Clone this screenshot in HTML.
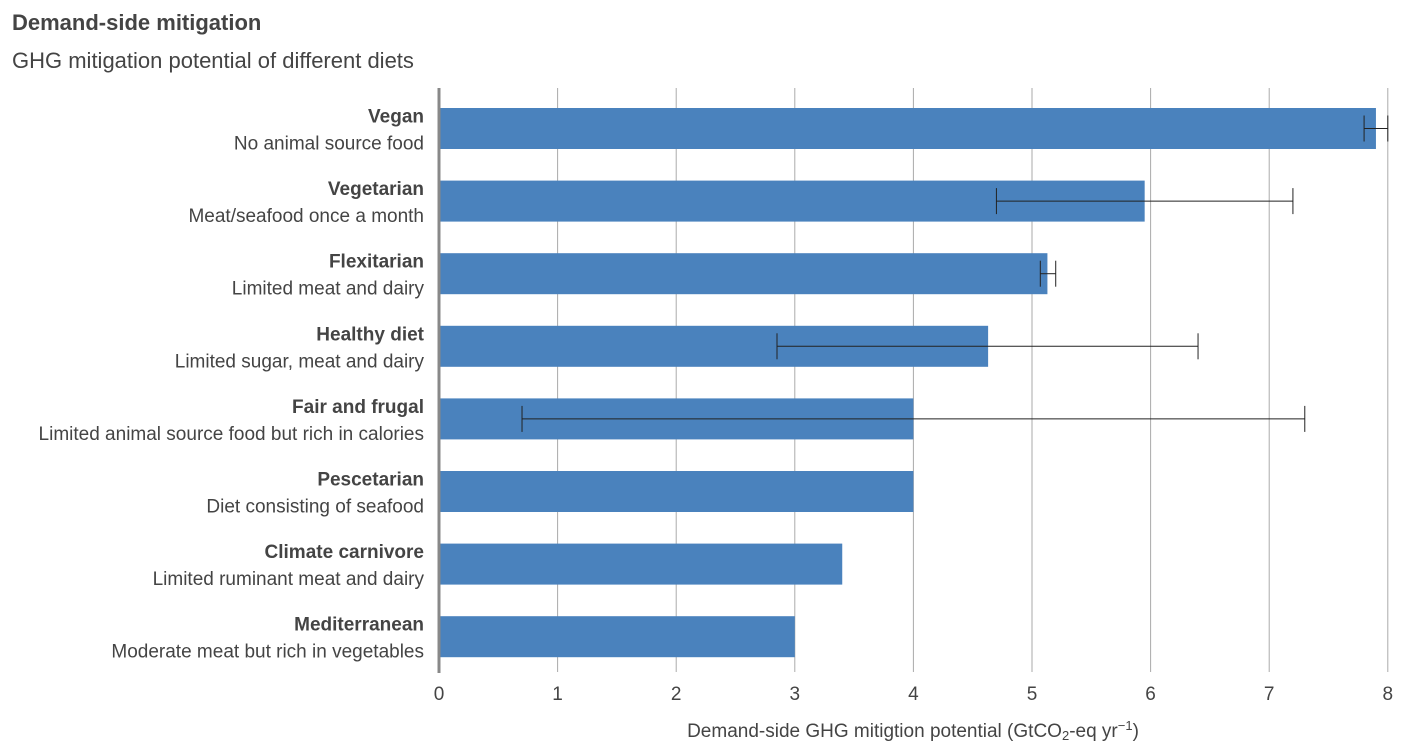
<!DOCTYPE html>
<html><head><meta charset="utf-8"><style>
body{margin:0;background:#fff;width:1401px;height:750px;overflow:hidden;font-family:"Liberation Sans",sans-serif}
text{font-family:"Liberation Sans",sans-serif;fill:#444}
</style></head><body>
<svg width="1401" height="750" id="svg">
<text x="12" y="30" font-size="22" font-weight="bold">Demand-side mitigation</text>
<text x="12" y="68" font-size="22">GHG mitigation potential of different diets</text>
<g id="grid"></g><g id="bars"></g><g id="labels"></g><g id="ticks"></g>
<line x1="439" y1="88" x2="439" y2="673" stroke="#888" stroke-width="3"/>
<text x="913" y="737" font-size="19" text-anchor="middle">Demand-side GHG mitigtion potential (GtCO<tspan font-size="13" dy="3">2</tspan><tspan dy="-3">-eq yr</tspan><tspan font-size="13" dy="-7">−1</tspan><tspan dy="7">)</tspan></text>
</svg>
<script>
const names=["Vegan","Vegetarian","Flexitarian","Healthy diet","Fair and frugal","Pescetarian","Climate carnivore","Mediterranean"];
const descs=["No animal source food","Meat/seafood once a month","Limited meat and dairy","Limited sugar, meat and dairy","Limited animal source food but rich in calories","Diet consisting of seafood","Limited ruminant meat and dairy","Moderate meat but rich in vegetables"];
const values=[7.9,5.95,5.13,4.63,4.0,4.0,3.4,3.0];
const errLow=[7.8,4.7,5.07,2.85,0.7,null,null,null];
const errHigh=[8.0,7.2,5.2,6.4,7.3,null,null,null];
const ticks=[0,1,2,3,4,5,6,7,8];
const NS="http://www.w3.org/2000/svg";
const x=v=>439+v*118.6;
const yc=i=>128.5+i*72.6;
const mk=(t,a,p)=>{const e=document.createElementNS(NS,t);for(const k in a)e.setAttribute(k,a[k]);p.appendChild(e);return e;};
const G=document.getElementById('grid'),B=document.getElementById('bars'),L=document.getElementById('labels'),T=document.getElementById('ticks');
ticks.forEach(t=>{
 if(t>0){const l=mk('line',{x1:x(t),x2:x(t),y1:88,y2:672,stroke:'#aaa','stroke-width':1},G);
 
 }
 const tx=mk('text',{x:x(t),y:700,'font-size':19,'text-anchor':'middle'},T);tx.textContent=t;
 
 
});
values.forEach((v,i)=>{
 const r=mk('rect',{x:x(0),y:yc(i)-20.5,width:x(v)-x(0),height:41,fill:'#4a82bd'},B);
 
 
 if(errLow[i]!=null){
  const g=mk('g',{stroke:'#222','stroke-width':1},B);
  
  
  mk('line',{x1:x(errLow[i]),x2:x(errHigh[i]),y1:yc(i),y2:yc(i)},g);
  mk('line',{x1:x(errLow[i]),x2:x(errLow[i]),y1:yc(i)-13,y2:yc(i)+13},g);
  mk('line',{x1:x(errHigh[i]),x2:x(errHigh[i]),y1:yc(i)-13,y2:yc(i)+13},g);
 }
 const n=mk('text',{x:424,y:yc(i)-6,'font-size':19,'font-weight':'bold','text-anchor':'end'},L);n.textContent=names[i];
 
 
 const d=mk('text',{x:424,y:yc(i)+21,'font-size':19,'text-anchor':'end'},L);d.textContent=descs[i];
 
 
});
</script>
</body></html>
